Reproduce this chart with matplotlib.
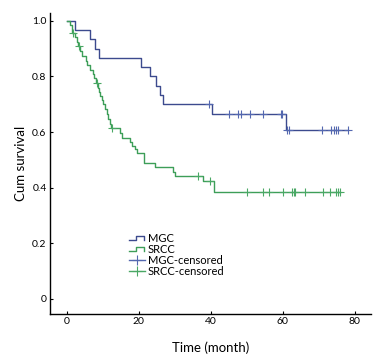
import numpy as np
import matplotlib
matplotlib.use("Agg")
import matplotlib.pyplot as plt
from matplotlib.legend_handler import HandlerBase
from matplotlib.lines import Line2D

plt.rcParams['font.family'] = ['Lato', 'DejaVu Sans']

# MGC survival steps (time of drop, survival after drop)
mgc_t = [0, 2.4, 6.5, 7.9, 9.1, 20.6, 23.2, 24.9, 26.0, 26.9, 40.3, 61.0, 78.1]
mgc_s = [1.0, 0.967, 0.933, 0.900, 0.866, 0.833, 0.800, 0.766, 0.733, 0.700, 0.665, 0.606, 0.606]
mgc_cens_t = [39.5, 45.2, 47.7, 48.4, 50.8, 54.4, 59.5, 59.9, 61.3, 61.8, 71.0, 73.5, 74.1, 74.8, 75.4, 78.1]
mgc_cens_s = [0.700, 0.665, 0.665, 0.665, 0.665, 0.665, 0.665, 0.665, 0.606, 0.606, 0.606, 0.606, 0.606, 0.606, 0.606, 0.606]

# SRCC survival steps
srcc_t = [0, 1.0, 1.5, 2.3, 2.8, 3.2, 3.8, 4.2, 5.3, 5.8, 6.6, 7.3, 7.7, 8.2, 8.8, 9.0, 9.3,
          9.8, 10.2, 10.7, 11.2, 11.6, 12.1, 12.4, 14.9, 15.3, 17.6, 18.1, 19.0, 19.5, 21.5,
          24.6, 29.5, 30.1, 38.0, 41.0, 75.8]
srcc_s = [1.0, 0.985, 0.955, 0.940, 0.925, 0.910, 0.890, 0.872, 0.855, 0.840, 0.822, 0.808,
          0.793, 0.777, 0.760, 0.745, 0.730, 0.715, 0.700, 0.683, 0.665, 0.648, 0.630, 0.613,
          0.595, 0.580, 0.565, 0.550, 0.540, 0.523, 0.490, 0.475, 0.458, 0.442, 0.424, 0.386, 0.386]
srcc_cens_t = [1.7, 3.5, 8.4, 12.6, 36.6, 39.7, 50.2, 54.4, 56.1, 60.2, 62.5, 63.0, 63.5,
               66.3, 71.2, 73.2, 74.9, 75.3, 75.8]
srcc_cens_s = [0.955, 0.910, 0.777, 0.613, 0.442, 0.424] + [0.386] * 13

mgc_color = '#3c4a8e'
mgc_cens_color = '#5468b0'
srcc_color = '#3d9e58'
srcc_cens_color = '#4aa865'


class StepHandler(HandlerBase):
    def create_artists(self, legend, orig, xd, yd, w, h, fontsize, trans):
        xs = np.array([0, 0.45, 0.45, 0.95, 0.95]) * w - xd
        ys = np.array([0.15, 0.15, 0.75, 0.75, 0.15]) * h - yd
        ln = Line2D(xs, ys, color=orig.get_color(), lw=1.0, transform=trans)
        return [ln]


fig = plt.figure(figsize=(3.83, 3.59), dpi=100)
ax = fig.add_axes([0.1305, 0.1262, 0.8382, 0.8376])

ax.step(mgc_t, mgc_s, where='post', color=mgc_color, lw=1.0)
ax.step(srcc_t, srcc_s, where='post', color=srcc_color, lw=1.0)
ax.plot(mgc_cens_t, mgc_cens_s, ls='none', marker='+', ms=5.5, mew=0.8, color=mgc_cens_color)
ax.plot(srcc_cens_t, srcc_cens_s, ls='none', marker='+', ms=5.5, mew=0.8, color=srcc_cens_color)

h1 = Line2D([], [], color=mgc_color)
h2 = Line2D([], [], color=srcc_color)
h3 = Line2D([], [], color=mgc_cens_color, marker='+', ms=7, mew=0.8, lw=1.0)
h4 = Line2D([], [], color=srcc_cens_color, marker='+', ms=7, mew=0.8, lw=1.0)
leg = ax.legend([h1, h2, h3, h4], ['MGC', 'SRCC', 'MGC-censored', 'SRCC-censored'],
                handler_map={h1: StepHandler(), h2: StepHandler()},
                loc='upper left', bbox_to_anchor=(0.245, 0.27), frameon=False,
                fontsize=8, handlelength=1.5, handletextpad=0.25, labelspacing=0.0,
                borderaxespad=0, borderpad=0)

ax.set_xlim(-4.6, 84.5)
ax.set_ylim(-0.053, 1.028)
ax.set_xticks([0, 20, 40, 60, 80])
ax.set_yticks([0, 0.2, 0.4, 0.6, 0.8, 1.0])
ax.set_yticklabels(['0', '0.2', '0.4', '0.6', '0.8', '1.0'])
ax.tick_params(direction='in', length=2.5, width=0.8, labelsize=7.5, pad=2.5)
for s in ['top', 'right']:
    ax.spines[s].set_visible(False)
for s in ['left', 'bottom']:
    ax.spines[s].set_linewidth(1.0)

ax.set_xlabel('Time (month)', fontsize=9.5, labelpad=11)
ax.set_ylabel('Cum survival', fontsize=9.5, labelpad=4)

fig.savefig('out.png', dpi=100)
